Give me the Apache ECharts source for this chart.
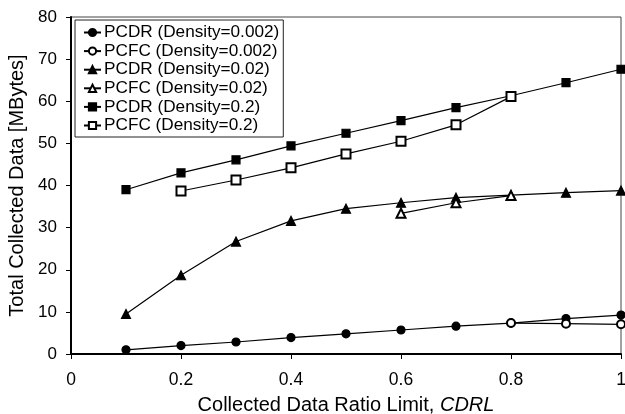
<!DOCTYPE html>
<html><head><meta charset="utf-8">
<script src="https://cdn.jsdelivr.net/npm/echarts@6/dist/echarts.min.js"></script>
<style>html,body{margin:0;padding:0;background:#fff}#c{width:625px;height:414px}</style>
</head><body><div id="c"></div>
<script>
const xValues = [0.1,0.2,0.3,0.4,0.5,0.6,0.7,0.8,0.9,1.0];
const pcdr002 = [1.0,2.0,2.85,3.9,4.8,5.7,6.6,7.35,8.4,9.25];
const pcfc002 = [null,null,null,null,null,null,null,7.35,7.2,7.05];
const pcdr02 = [9.5,18.7,26.7,31.6,34.5,35.9,37.1,37.7,38.3,38.8];
const pcfc02 = [null,null,null,null,null,33.4,35.9,37.6,null,null];
const pcdr2 = [39.0,43.0,46.1,49.4,52.4,55.4,58.5,61.3,64.4,67.6];
const pcfc2 = [null,38.7,41.3,44.2,47.5,50.5,54.4,61.1,null,null];
const seriesNames = ['PCDR (Density=0.002)','PCFC (Density=0.002)','PCDR (Density=0.02)','PCFC (Density=0.02)','PCDR (Density=0.2)','PCFC (Density=0.2)'];
const seriesData = [pcdr002,pcfc002,pcdr02,pcfc02,pcdr2,pcfc2];
const symbols = ['circle','emptyCircle','triangle','emptyTriangle','rect','emptyRect'];
const sizes = [8,8,9,9,8,9];
const font = 'Liberation Sans, Arial, sans-serif';

const chart = echarts.init(document.getElementById('c'));
chart.setOption({
  animation:false,
  backgroundColor:'#fff',
  grid:{left:71,right:4,top:17,bottom:60,containLabel:false,outerBoundsMode:'none',show:true,borderColor:'#444',borderWidth:1,backgroundColor:'transparent'},
  legend:{
    orient:'vertical',left:75,top:20,
    padding:[4,4,3,8],itemGap:1.6,itemWidth:17,itemHeight:9,
    borderColor:'#222',borderWidth:1,backgroundColor:'#fff',
    textStyle:{fontFamily:font,fontSize:17.2,color:'#000',padding:[0,0,0,-2]},
    data:seriesNames
  },
  xAxis:{
    type:'value',min:0,max:1,interval:0.2,
    name:'{a|Collected Data Ratio Limit, }{b|CDRL}',nameLocation:'middle',nameGap:41,
    nameTextStyle:{rich:{a:{fontFamily:font,fontSize:20,color:'#000'},b:{fontFamily:font,fontSize:20,fontStyle:'italic',color:'#000'}}},
    axisLine:{lineStyle:{color:'#000',width:2}},
    axisTick:{show:true,inside:false,length:5,lineStyle:{color:'#000',width:1}},
    axisLabel:{fontFamily:font,fontSize:17.5,color:'#000',margin:17,formatter:v=>String(Math.round(v*10)/10)},
    splitLine:{show:false}
  },
  yAxis:{
    type:'value',min:0,max:80,interval:10,
    name:'Total Collected Data [MBytes]',nameLocation:'middle',nameGap:36,
    nameTextStyle:{fontFamily:font,fontSize:20,color:'#000'},
    axisLine:{show:true,lineStyle:{color:'#000',width:2}},
    axisTick:{show:true,inside:false,length:5,lineStyle:{color:'#000',width:1}},
    axisLabel:{fontFamily:font,fontSize:17,color:'#000',margin:14},
    splitLine:{show:false}
  },
  series:seriesData.map((d,i)=>({
    name:seriesNames[i],type:'line',
    data:xValues.map((x,j)=>d[j]==null?null:[x,d[j]]).filter(p=>p),
    symbol:symbols[i],symbolSize:sizes[i],showAllSymbol:true,
    lineStyle:{color:'#000',width:1.2},
    itemStyle:{color:'#000',borderColor:'#000',borderWidth:1.2},
    emphasis:{disabled:true},
    z:(i%2===1)?3:2
  }))
});
</script></body></html>
